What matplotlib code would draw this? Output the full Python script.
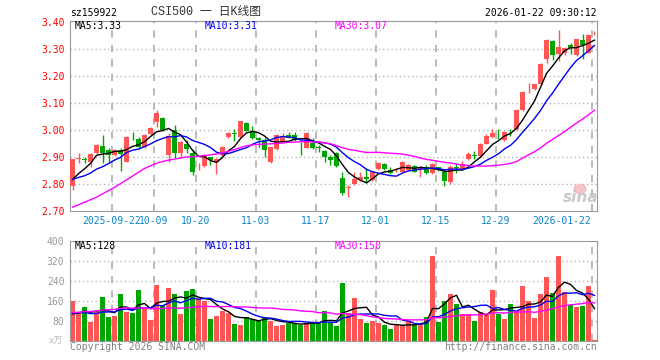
import matplotlib
matplotlib.use('Agg')
import matplotlib.pyplot as plt
from matplotlib.patches import Ellipse
import numpy as np
import pandas as pd

plt.rcParams['font.family'] = ['DejaVu Sans Mono', 'Noto Sans CJK SC']

# daily candles, 2025-09-11 .. 2026-01-22
opens = [2.794, 2.894, 2.892, 2.884, 2.915, 2.942, 2.927, 2.909, 2.927, 2.884,
         2.980, 2.967, 2.940, 2.986, 3.030, 3.044, 2.909, 3.001, 2.915, 2.949,
         2.917, 2.863, 2.868, 2.900, 2.884, 2.909, 2.976, 2.990, 2.976, 3.028,
         2.995, 2.972, 2.964, 2.881, 2.931, 2.959, 2.981, 2.984, 2.950, 2.936,
         2.954, 2.937, 2.925, 2.902, 2.915, 2.822, 2.786, 2.801, 2.816, 2.828,
         2.816, 2.855, 2.875, 2.853, 2.852, 2.847, 2.853, 2.868, 2.857, 2.863,
         2.841, 2.863, 2.847, 2.808, 2.863, 2.856, 2.893, 2.908, 2.905, 2.951,
         2.975, 2.984, 2.964, 2.999, 3.004, 3.074, 3.159, 3.152, 3.170, 3.265,
         3.331, 3.284, 3.288, 3.316, 3.279, 3.335, 3.288, 3.360]
highs = [2.895, 2.917, 2.902, 2.917, 2.950, 2.983, 2.933, 2.930, 2.933, 2.979,
         2.995, 2.976, 2.986, 3.014, 3.075, 3.050, 2.989, 3.020, 2.960, 2.964,
         2.927, 2.878, 2.912, 2.902, 2.896, 2.943, 2.995, 3.004, 3.036, 3.032,
         3.016, 2.976, 2.970, 2.940, 2.986, 2.989, 2.995, 2.995, 2.958, 2.992,
         2.970, 2.946, 2.927, 2.909, 2.921, 2.847, 2.797, 2.847, 2.847, 2.859,
         2.850, 2.881, 2.878, 2.865, 2.860, 2.887, 2.875, 2.872, 2.868, 2.870,
         2.878, 2.866, 2.858, 2.870, 2.880, 2.886, 2.920, 2.924, 2.954, 2.988,
         3.004, 3.004, 2.997, 3.004, 3.078, 3.145, 3.177, 3.173, 3.250, 3.338,
         3.334, 3.372, 3.308, 3.325, 3.340, 3.356, 3.356, 3.368]
lows = [2.779, 2.878, 2.880, 2.865, 2.912, 2.878, 2.884, 2.905, 2.851, 2.881,
        2.964, 2.930, 2.936, 2.984, 3.014, 2.999, 2.884, 2.896, 2.896, 2.915,
        2.835, 2.853, 2.865, 2.872, 2.838, 2.905, 2.972, 2.962, 2.973, 2.996,
        2.968, 2.937, 2.902, 2.878, 2.928, 2.955, 2.970, 2.960, 2.909, 2.933,
        2.930, 2.921, 2.884, 2.872, 2.866, 2.760, 2.754, 2.798, 2.814, 2.804,
        2.813, 2.852, 2.852, 2.840, 2.846, 2.845, 2.850, 2.845, 2.826, 2.838,
        2.838, 2.850, 2.792, 2.800, 2.843, 2.853, 2.890, 2.895, 2.902, 2.948,
        2.972, 2.967, 2.961, 2.979, 3.001, 3.071, 3.140, 3.149, 3.167, 3.251,
        3.259, 3.257, 3.280, 3.282, 3.276, 3.263, 3.285, 3.353]
closes = [2.893, 2.896, 2.890, 2.911, 2.946, 2.917, 2.909, 2.927, 2.912, 2.976,
          2.978, 2.940, 2.983, 3.007, 3.065, 3.001, 2.979, 2.917, 2.958, 2.930,
          2.847, 2.866, 2.909, 2.890, 2.893, 2.940, 2.991, 2.988, 3.034, 2.999,
          2.970, 2.966, 2.927, 2.937, 2.983, 2.976, 2.973, 2.964, 2.948, 2.989,
          2.933, 2.935, 2.900, 2.890, 2.869, 2.769, 2.789, 2.820, 2.828, 2.821,
          2.847, 2.878, 2.855, 2.843, 2.854, 2.884, 2.870, 2.847, 2.860, 2.841,
          2.875, 2.853, 2.811, 2.866, 2.860, 2.874, 2.911, 2.906, 2.951, 2.979,
          2.991, 2.981, 2.994, 2.996, 3.075, 3.142, 3.161, 3.170, 3.247, 3.335,
          3.278, 3.309, 3.304, 3.304, 3.337, 3.316, 3.353, 3.362]
volumes = [160, 109, 136, 73, 113, 176, 96, 100, 188, 113,
           112, 204, 127, 84, 224, 144, 212, 188, 108, 200,
           208, 167, 160, 88, 100, 120, 109, 68, 64, 96,
           88, 80, 96, 80, 60, 64, 69, 72, 64, 69,
           72, 72, 120, 72, 60, 233, 109, 169, 88, 69,
           77, 69, 64, 48, 61, 64, 77, 64, 67, 96,
           340, 73, 160, 188, 148, 105, 108, 80, 116, 105,
           204, 108, 88, 148, 117, 220, 157, 92, 188, 256,
           192, 340, 196, 144, 134, 140, 218, 4]

# closes / volumes before the window (only needed for the moving averages)
prev_closes = [2.62, 2.61, 2.63, 2.67, 2.55, 2.54, 2.56, 2.50, 2.57, 2.55,
               2.51, 2.56, 2.72, 2.78, 2.80, 2.83, 2.81, 2.82, 2.83, 2.81,
               2.82, 2.83, 2.81, 2.80, 2.83, 2.79, 2.80, 2.81, 2.797]
prev_volumes = [55, 62, 58, 50, 66, 60, 57, 63, 63, 150,
                175, 140, 165, 190, 145, 160, 170, 140, 150, 151,
                92, 120, 115, 108, 120, 90, 100, 95, 90]

tick_idx = [7, 14, 21, 31, 41, 51, 61, 71, 87]
tick_labels = ['2025-09-22', '10-09', '10-20', '11-03', '11-17',
               '12-01', '12-15', '12-29', '2026-01-22']

RED = '#ff5555'
GREEN = '#00a600'
GRID = '#b4b4b4'
FRAME = '#9a9a9a'

n = len(closes)
x = np.arange(n)
o = np.array(opens); c = np.array(closes)
colors = [RED if c[i] >= o[i] else GREEN for i in range(n)]

cs = pd.Series(prev_closes + closes)
vs = pd.Series(prev_volumes + volumes)
k = len(prev_closes)
ma = {w: cs.rolling(w).mean().values[k:] for w in (5, 10, 30)}
vma = {w: vs.rolling(w).mean().values[k:] for w in (5, 10, 30)}
ma_colors = {5: 'black', 10: '#0000ee', 30: '#ff00ff'}

W, H = 660, 360
fig = plt.figure(figsize=(6.6, 3.6), dpi=100)

def px(xp, yp):
    return xp / W, 1 - yp / H

xl = (-2.5 / 6, 87 + 2.5 / 6)
tick_x = [i - 2.5 / 6 for i in tick_idx]

# price panel
ax = fig.add_axes([70 / W, 1 - 211.3 / H, 527 / W, 190.8 / H])
ax.set_xlim(xl)
ax.set_ylim(2.70, 3.407)
for yv in [2.8, 2.9, 3.0, 3.1, 3.2, 3.3]:
    ax.axhline(yv, color=GRID, lw=1, ls=(0, (1, 2)), zorder=0)
for tx in tick_x:
    ax.axvline(tx, color=GRID, lw=1.3, ls=(0, (4, 4)), zorder=0)
ax.vlines(x, lows, highs, colors=colors, lw=1, zorder=2)
body_h = np.maximum(np.abs(c - o), 0.002)
ax.bar(x, body_h, bottom=np.minimum(c, o), width=0.83, color=colors, lw=0, zorder=3)
for w in (5, 10, 30):
    ax.plot(x, ma[w], color=ma_colors[w], lw=1, zorder=4)
ax.set_xticks([])
yt = [2.7, 2.8, 2.9, 3.0, 3.1, 3.2, 3.3, 3.4]
ax.set_yticks(yt)
ax.set_yticklabels(['%.2f' % v for v in yt])
ax.tick_params(axis='y', length=0, pad=4, labelcolor='#ff0000', labelsize=7)
for s in ax.spines.values():
    s.set_color(FRAME)

# sina watermark
fig.patches.append(Ellipse(px(580, 189), 12 / W, 9 / H, transform=fig.transFigure,
                           color='#f4b8b8', alpha=0.8, zorder=1))
fig.text(*px(581, 197), 'sina', ha='center', va='center', fontsize=11, style='italic',
         fontweight='bold', color='#c4c4c4', family='DejaVu Sans', alpha=0.9)

for i, lab in zip(tick_idx, tick_labels):
    ha = 'right' if i == tick_idx[-1] else 'center'
    xp = 591 if i == tick_idx[-1] else 70 + 6 * i
    fig.text(*px(xp, 221), lab, ha=ha, va='center', fontsize=7, color='#0a84c8')

# volume panel
axv = fig.add_axes([70 / W, 1 - 340.5 / H, 527 / W, 99.5 / H])
axv.set_xlim(xl)
axv.set_ylim(0, 400)
for yv in [80, 160, 240, 320]:
    axv.axhline(yv, color=GRID, lw=1, ls=(0, (1, 2)), zorder=0)
for tx in tick_x:
    axv.axvline(tx, color=GRID, lw=1.3, ls=(0, (4, 4)), zorder=0)
axv.bar(x, volumes, width=0.83, color=colors, lw=0, zorder=2)
for w in (5, 10, 30):
    axv.plot(x, vma[w], color=ma_colors[w], lw=1, zorder=3)
axv.set_xticks([])
axv.set_yticks([80, 160, 240, 320, 400])
axv.set_yticklabels(['80', '160', '240', '320', '400'])
axv.tick_params(axis='y', length=0, pad=4, labelcolor='#999999', labelsize=7)
for s in axv.spines.values():
    s.set_color(FRAME)

# header texts
fig.text(*px(70, 13), 'sz159922', ha='left', va='center', fontsize=7, color='black')
fig.text(*px(151, 12), 'CSI500 一 日K线图', ha='left', va='center', fontsize=8.5,
         color='#333333', family=['Liberation Mono', 'Noto Sans CJK SC'])
fig.text(*px(597, 13), '2026-01-22 09:30:12', ha='right', va='center', fontsize=7, color='black')

fig.text(*px(75, 26), 'MA5:3.33', ha='left', va='center', fontsize=7, color='black')
fig.text(*px(205, 26), 'MA10:3.31', ha='left', va='center', fontsize=7, color='#0000ee')
fig.text(*px(335, 26), 'MA30:3.07', ha='left', va='center', fontsize=7, color='#ff00ff')
fig.text(*px(75, 246), 'MA5:128', ha='left', va='center', fontsize=7, color='black')
fig.text(*px(205, 246), 'MA10:181', ha='left', va='center', fontsize=7, color='#0000ee')
fig.text(*px(335, 246), 'MA30:150', ha='left', va='center', fontsize=7, color='#ff00ff')

fig.text(*px(63, 341), 'x万', ha='right', va='center', fontsize=6.5, color='#b8b8b8')
fig.text(*px(70, 347), 'Copyright 2026 SINA.COM', ha='left', va='center', fontsize=7, color='#808080')
fig.text(*px(597, 347), 'http://finance.sina.com.cn', ha='right', va='center', fontsize=7, color='#808080')

fig.savefig('out.png', dpi=100)
